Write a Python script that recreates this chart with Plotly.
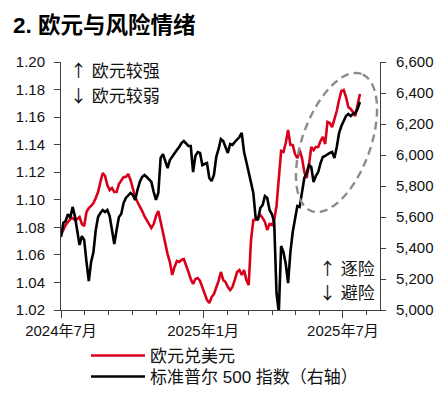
import numpy as np
import pandas as pd
import plotly.graph_objects as go

dates = pd.date_range("2024-07-01", periods=130, freq="3D")

eurusd = [
    1.0744, 1.0788, 1.0817, 1.0839, 1.0860, 1.0868, 1.0853, 1.0860, 1.0875, 1.0824,
    1.0810, 1.0911, 1.0940, 1.0955, 1.0977, 1.1013, 1.1056, 1.1129, 1.1194, 1.1173,
    1.1107, 1.1071, 1.1086, 1.1056, 1.1056, 1.1115, 1.1144, 1.1165, 1.1165, 1.1187,
    1.1144, 1.1071, 1.1020, 1.0984, 1.0955, 1.0919, 1.0882, 1.0853, 1.0817, 1.0795,
    1.0824, 1.0882, 1.0919, 1.0839, 1.0759, 1.0679, 1.0606, 1.0548, 1.0454, 1.0512,
    1.0556, 1.0548, 1.0563, 1.0570, 1.0527, 1.0476, 1.0425, 1.0389, 1.0425, 1.0432,
    1.0411, 1.0360, 1.0309, 1.0273, 1.0251, 1.0294, 1.0316, 1.0360, 1.0411, 1.0476,
    1.0418, 1.0403, 1.0367, 1.0345, 1.0367, 1.0418, 1.0476, 1.0490, 1.0454, 1.0490,
    1.0418, 1.0381, 1.0708, 1.0853, 1.0853, 1.0875, 1.0890, 1.0868, 1.0839, 1.0781,
    1.0824, 1.0817, 1.0853, 1.0955, 1.1144, 1.1354, 1.1347, 1.1412, 1.1506, 1.1398,
    1.1398, 1.1332, 1.1303, 1.1361, 1.1303, 1.1202, 1.1158, 1.1252, 1.1383, 1.1361,
    1.1383, 1.1383, 1.1427, 1.1456, 1.1405, 1.1565, 1.1557, 1.1528, 1.1586, 1.1644,
    1.1724, 1.1790, 1.1797, 1.1746, 1.1673, 1.1659, 1.1637, 1.1608, 1.1688, 1.1768,
]

spx = [
    5471, 5561, 5574, 5619, 5594, 5665, 5606, 5523, 5419, 5477,
    5452, 5310, 5187, 5310, 5374, 5516, 5600, 5626, 5645, 5632,
    5645, 5606, 5516, 5426, 5516, 5600, 5619, 5690, 5723, 5742,
    5755, 5742, 5710, 5774, 5826, 5858, 5871, 5858, 5845, 5826,
    5761, 5710, 5755, 5981, 6006, 5955, 5916, 5968, 5987, 6013,
    6032, 6052, 6077, 6090, 6077, 6058, 6058, 5890, 5994, 6019,
    6013, 5935, 5942, 5948, 5852, 5832, 5871, 5987, 6039, 6103,
    6090, 6045, 6013, 6071, 6065, 6084, 6097, 6116, 6142, 6019,
    5955, 5884, 5806, 5755, 5594, 5581, 5658, 5677, 5735, 5723,
    5645, 5619, 5568, 5110, 4987, 5413, 5374, 5297, 5174, 5374,
    5503, 5581, 5671, 5665, 5774, 5852, 5884, 5935, 5923, 5826,
    5865, 5890, 5948, 5987, 5994, 6006, 6013, 6019, 5981, 6052,
    6142, 6187, 6219, 6252, 6265, 6252, 6265, 6271, 6297, 6342,
]

x_tick_vals = ["2024-07-01", "2025-01-01", "2025-07-01"]
x_tick_text = ["2024年7月", "2025年1月", "2025年7月"]
series_names = ["欧元兑美元", "标准普尔 500 指数（右轴）"]

# ---- styling ----
OFF = 8                      # page body margin offset in the browser
W, H = 445 - OFF, 395 - OFF
PL, PR, PT, PB = 61, 380, 62, 310   # plot area in window pixels
ML, MR, MT, MB = PL - OFF, W - (PR - OFF), PT - OFF, H - (PB - OFF)
RED = "#d9001b"
AX = "#404040"
FONT = "Liberation Sans, Arial, Noto Sans CJK SC, sans-serif"
CJK = "Noto Sans CJK SC"
pw, ph = PR - PL, PB - PT


def px2x(x):
    return (x - PL) / pw


def px2y(y):
    return (PB - y) / ph


fig = go.Figure()
fig.add_trace(go.Scatter(x=dates, y=eurusd, name=series_names[0], mode="lines",
                         line=dict(color=RED, width=2.6), yaxis="y", legend="legend"))
fig.add_trace(go.Scatter(x=dates, y=spx, name=series_names[1], mode="lines",
                         line=dict(color="#000000", width=2.6), yaxis="y2", legend="legend2"))

# dashed tilted ellipse (decoration) in paper coordinates
cx, cy, a, b, th = 336.5, 142.5, 73, 34, np.deg2rad(70)
t = np.linspace(0, 2 * np.pi, 73)
ex = cx + a * np.cos(t) * np.cos(th) - b * np.sin(t) * np.sin(th)
ey = cy - (a * np.cos(t) * np.sin(th) + b * np.sin(t) * np.cos(th))
path = "M" + " L".join(f"{px2x(u):.4f},{px2y(v):.4f}" for u, v in zip(ex, ey)) + " Z"
fig.add_shape(type="path", path=path, xref="paper", yref="paper",
              line=dict(color="#8c8c8c", width=2.4, dash="8px,5px"))


def ann(text, x, y, xanchor="left", size=17, color="#111111"):
    fig.add_annotation(text=text, x=px2x(x), y=px2y(y),
                       xref="paper", yref="paper", showarrow=False,
                       xanchor=xanchor, yanchor="middle", align=xanchor,
                       font=dict(family=FONT, size=size, color=color))


def arrow(ch):
    return f'<span style="font-family:{CJK}">{ch}</span>'


ann(arrow("↑") + " 欧元较强", 68, 70)
ann(arrow("↓") + " 欧元较弱", 68, 94)
ann(arrow("↑") + " 逐险", 377, 267, "right")
ann(arrow("↓") + " 避险", 377, 291, "right")
ann("<b>2. 欧元与风险情绪</b>", 11, 24.5, size=22.5, color="#000000")

legend_common = dict(xanchor="left", yanchor="middle", orientation="v",
                     font=dict(family=FONT, size=17, color="#111111"),
                     bgcolor="rgba(0,0,0,0)", itemwidth=54)

fig.update_layout(
    width=W, height=H,
    margin=dict(l=ML, r=MR, t=MT, b=MB, pad=0, autoexpand=False),
    paper_bgcolor="white", plot_bgcolor="white",
    font=dict(family=FONT, size=15, color="#111111"),
    showlegend=True,
    legend=dict(x=px2x(86), y=px2y(356), **legend_common),
    legend2=dict(x=px2x(86), y=px2y(377), **legend_common),
    xaxis=dict(type="date", range=["2024-07-01", "2025-08-18"],
               tickmode="array", tickvals=x_tick_vals, ticktext=x_tick_text,
               ticks="outside", ticklen=7, tickcolor=AX, tickwidth=1,
               minor=dict(dtick="M1", tick0="2024-07-01", ticks="outside",
                          ticklen=4, tickcolor=AX, tickwidth=1, showgrid=False),
               showline=True, linecolor=AX, linewidth=1, showgrid=False,
               zeroline=False, tickfont=dict(family=FONT, size=15)),
    yaxis=dict(range=[1.02, 1.20], dtick=0.02, tick0=1.02, tickformat=".2f",
               ticks="outside", ticklen=6, tickcolor=AX, showline=True,
               linecolor=AX, linewidth=1, showgrid=False, zeroline=False,
               ticklabelstandoff=6,
               tickfont=dict(family=FONT, size=15)),
    yaxis2=dict(range=[5000, 6600], dtick=200, tick0=5000, tickformat=",d",
                overlaying="y", side="right", ticks="outside", ticklen=5,
                tickcolor=AX, showline=True, linecolor=AX, linewidth=1,
                showgrid=False, zeroline=False, ticklabelstandoff=7,
                tickfont=dict(family=FONT, size=15)),
)

fig.write_html("out.html")
